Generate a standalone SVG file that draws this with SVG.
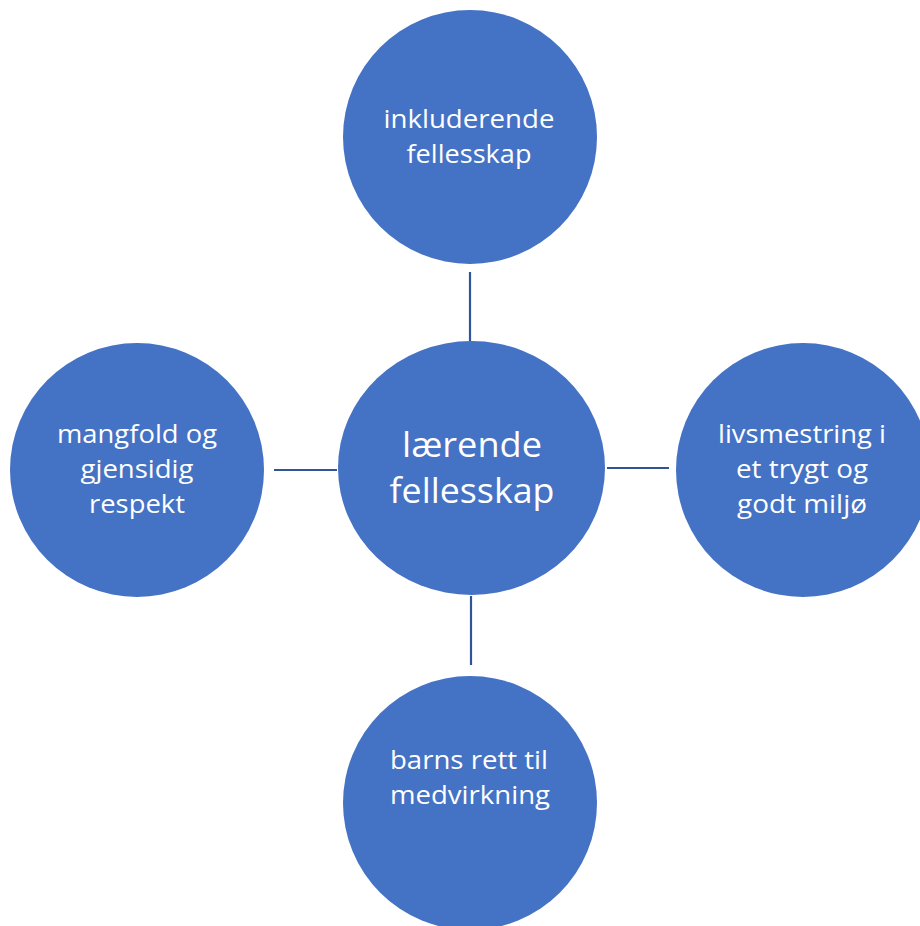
<svg xmlns="http://www.w3.org/2000/svg" width="920" height="926" viewBox="0 0 920 926">
<style>
.node{fill:#4472C4;}
.lbl{fill:#FFFFFF;font-family:"Open Sans","Noto Sans","Liberation Sans",sans-serif;font-size:26px;text-anchor:middle;}
.big{font-size:34px;}
.conn{stroke:#2F5597;stroke-width:2.2;fill:none;}
</style>
<rect width="920" height="926" fill="#FFFFFF"/>
<g id="connectors">
<line class="conn" x1="470" y1="272" x2="470" y2="341"/>
<line class="conn" x1="274" y1="470" x2="337" y2="470"/>
<line class="conn" x1="607" y1="468" x2="669" y2="468"/>
<line class="conn" x1="471" y1="596" x2="471" y2="665"/>
</g>
<g id="node-top">
<circle class="node" cx="470" cy="137" r="127"/>
<text class="lbl" x="469" y="128" textLength="171" lengthAdjust="spacingAndGlyphs">inkluderende</text>
<text class="lbl" x="469" y="163" textLength="125" lengthAdjust="spacingAndGlyphs">fellesskap</text>
</g>
<g id="node-left">
<circle class="node" cx="137" cy="470" r="127"/>
<text class="lbl" x="137" y="443" textLength="160" lengthAdjust="spacingAndGlyphs">mangfold og</text>
<text class="lbl" x="137" y="478" textLength="113" lengthAdjust="spacingAndGlyphs">gjensidig</text>
<text class="lbl" x="137" y="513" textLength="96" lengthAdjust="spacingAndGlyphs">respekt</text>
</g>
<g id="node-center">
<ellipse class="node" cx="471.5" cy="468" rx="133.5" ry="127"/>
<text class="lbl big" x="472" y="457" textLength="140" lengthAdjust="spacingAndGlyphs">lærende</text>
<text class="lbl big" x="472" y="503" textLength="165" lengthAdjust="spacingAndGlyphs">fellesskap</text>
</g>
<g id="node-right">
<circle class="node" cx="803" cy="470" r="127"/>
<text class="lbl" x="802" y="443" textLength="168" lengthAdjust="spacingAndGlyphs">livsmestring i</text>
<text class="lbl" x="802" y="478" textLength="132" lengthAdjust="spacingAndGlyphs">et trygt og</text>
<text class="lbl" x="802" y="513" textLength="130" lengthAdjust="spacingAndGlyphs">godt miljø</text>
</g>
<g id="node-bottom">
<circle class="node" cx="470" cy="803" r="127"/>
<text class="lbl" x="469" y="769" textLength="158" lengthAdjust="spacingAndGlyphs">barns rett til</text>
<text class="lbl" x="470" y="804" textLength="160" lengthAdjust="spacingAndGlyphs">medvirkning</text>
</g>
</svg>
